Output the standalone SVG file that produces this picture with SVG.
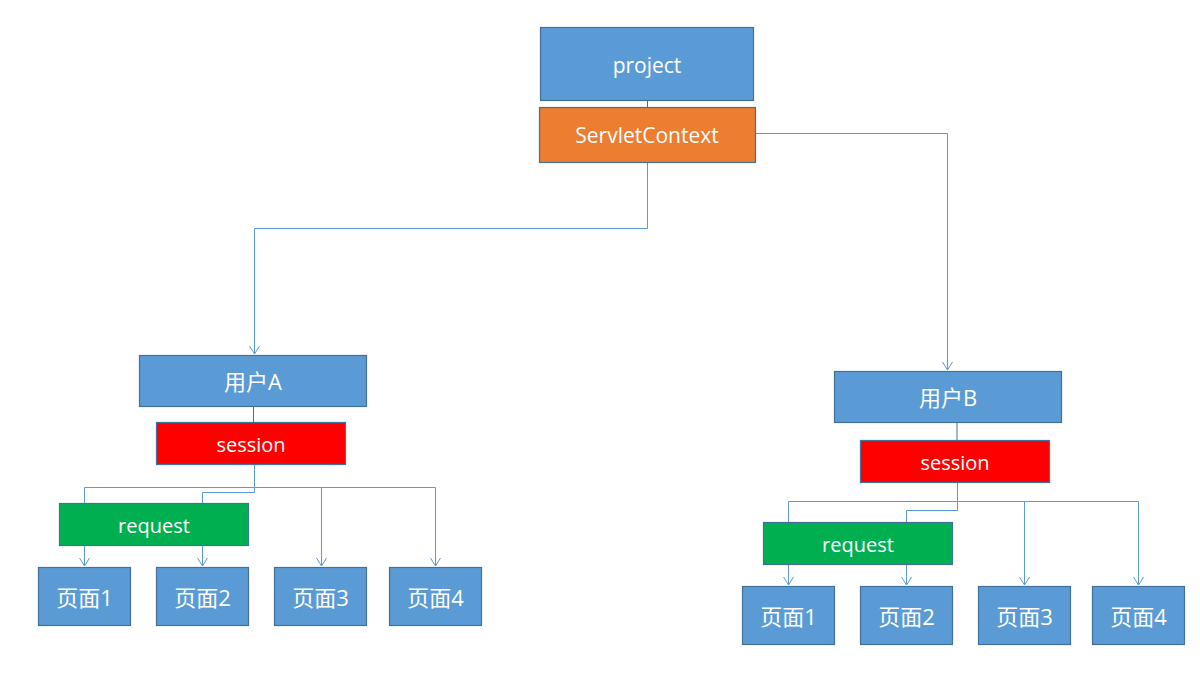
<svg xmlns="http://www.w3.org/2000/svg" width="1200" height="673" viewBox="0 0 1200 673">
<style>
.blue{fill:#5B9BD5;stroke:#41719C;stroke-width:1.2}
.orange{fill:#ED7D31;stroke:#41719C;stroke-width:1.2}
.red{fill:#FF0000;stroke:#41719C;stroke-width:1.2}
.green{fill:#00B050;stroke:#41719C;stroke-width:1.2}
text{fill:#FFFFFF;font-family:"Open Sans","Noto Sans CJK SC",sans-serif;text-anchor:middle;dominant-baseline:central}
.t20{font-size:21px}
.t18{font-size:20px}
.cjk{font-size:22px}
.conn path{fill:none;stroke:#5B9BD5;stroke-width:1}
</style>
<defs>
<marker id="arr" markerWidth="12" markerHeight="12" refX="10" refY="6" orient="auto" markerUnits="userSpaceOnUse">
<path d="M2,1 L10,6 L2,11" fill="none" stroke="#5B9BD5" stroke-width="1"/>
</marker>
</defs>
<g id="connectors" class="conn">
<path d="M647.5,100 V107" style="stroke:#41719C"/>
<path d="M647.5,162 V228.5 H254.5 V354" marker-end="url(#arr)"/>
<path d="M756,133.5 H947.5 V370" marker-end="url(#arr)"/>
<path d="M253.5,406 V422" style="stroke:#41719C"/>
<path d="M254.5,464 V487.5 H84.5 V566" marker-end="url(#arr)"/>
<path d="M254.5,487.5 H321.5 V566" marker-end="url(#arr)"/>
<path d="M321.5,487.5 H435.5 V566" marker-end="url(#arr)"/>
<path d="M254.5,464 V492.5 H202.5 V566" marker-end="url(#arr)"/>
<path d="M957,422 V440" style="stroke:#41719C"/>
<path d="M957.5,482 V501.5 H788.5 V585" marker-end="url(#arr)"/>
<path d="M957.5,501.5 H1024.5 V585" marker-end="url(#arr)"/>
<path d="M1024.5,501.5 H1138.5 V585" marker-end="url(#arr)"/>
<path d="M957.5,482 V510.5 H906.5 V585" marker-end="url(#arr)"/>
</g>
<g id="project"><rect class="blue" x="540.5" y="27.5" width="213" height="73"/><text class="t20" x="647" y="65">project</text></g>
<g id="servletcontext"><rect class="orange" x="539.5" y="107.5" width="216" height="55"/><text class="t20" x="647" y="135">ServletContext</text></g>
<g id="userA"><rect class="blue" x="139.5" y="355.5" width="227" height="51"/><text class="cjk" x="253" y="381">用户A</text></g>
<g id="sessionA"><rect class="red" x="156.5" y="422.5" width="189" height="42"/><text class="t18" x="251" y="444">session</text></g>
<g id="requestA"><rect class="green" x="59.5" y="503.5" width="189" height="42"/><text class="t18" x="154" y="525">request</text></g>
<g id="pageA1"><rect class="blue" x="38.5" y="567.5" width="92" height="58"/><text class="cjk" x="84.5" y="597">页面1</text></g>
<g id="pageA2"><rect class="blue" x="156.5" y="567.5" width="92" height="58"/><text class="cjk" x="202.5" y="597">页面2</text></g>
<g id="pageA3"><rect class="blue" x="274.5" y="567.5" width="92" height="58"/><text class="cjk" x="320.5" y="597">页面3</text></g>
<g id="pageA4"><rect class="blue" x="389.5" y="567.5" width="92" height="58"/><text class="cjk" x="435.5" y="597">页面4</text></g>
<g id="userB"><rect class="blue" x="834.5" y="371.5" width="227" height="51"/><text class="cjk" x="948" y="397">用户B</text></g>
<g id="sessionB"><rect class="red" x="860.5" y="440.5" width="189" height="42"/><text class="t18" x="955" y="462">session</text></g>
<g id="requestB"><rect class="green" x="763.5" y="522.5" width="189" height="42"/><text class="t18" x="858" y="544">request</text></g>
<g id="pageB1"><rect class="blue" x="742.5" y="586.5" width="92" height="58"/><text class="cjk" x="788.5" y="616">页面1</text></g>
<g id="pageB2"><rect class="blue" x="860.5" y="586.5" width="92" height="58"/><text class="cjk" x="906.5" y="616">页面2</text></g>
<g id="pageB3"><rect class="blue" x="978.5" y="586.5" width="92" height="58"/><text class="cjk" x="1024.5" y="616">页面3</text></g>
<g id="pageB4"><rect class="blue" x="1092.5" y="586.5" width="92" height="58"/><text class="cjk" x="1138.5" y="616">页面4</text></g>
</svg>
